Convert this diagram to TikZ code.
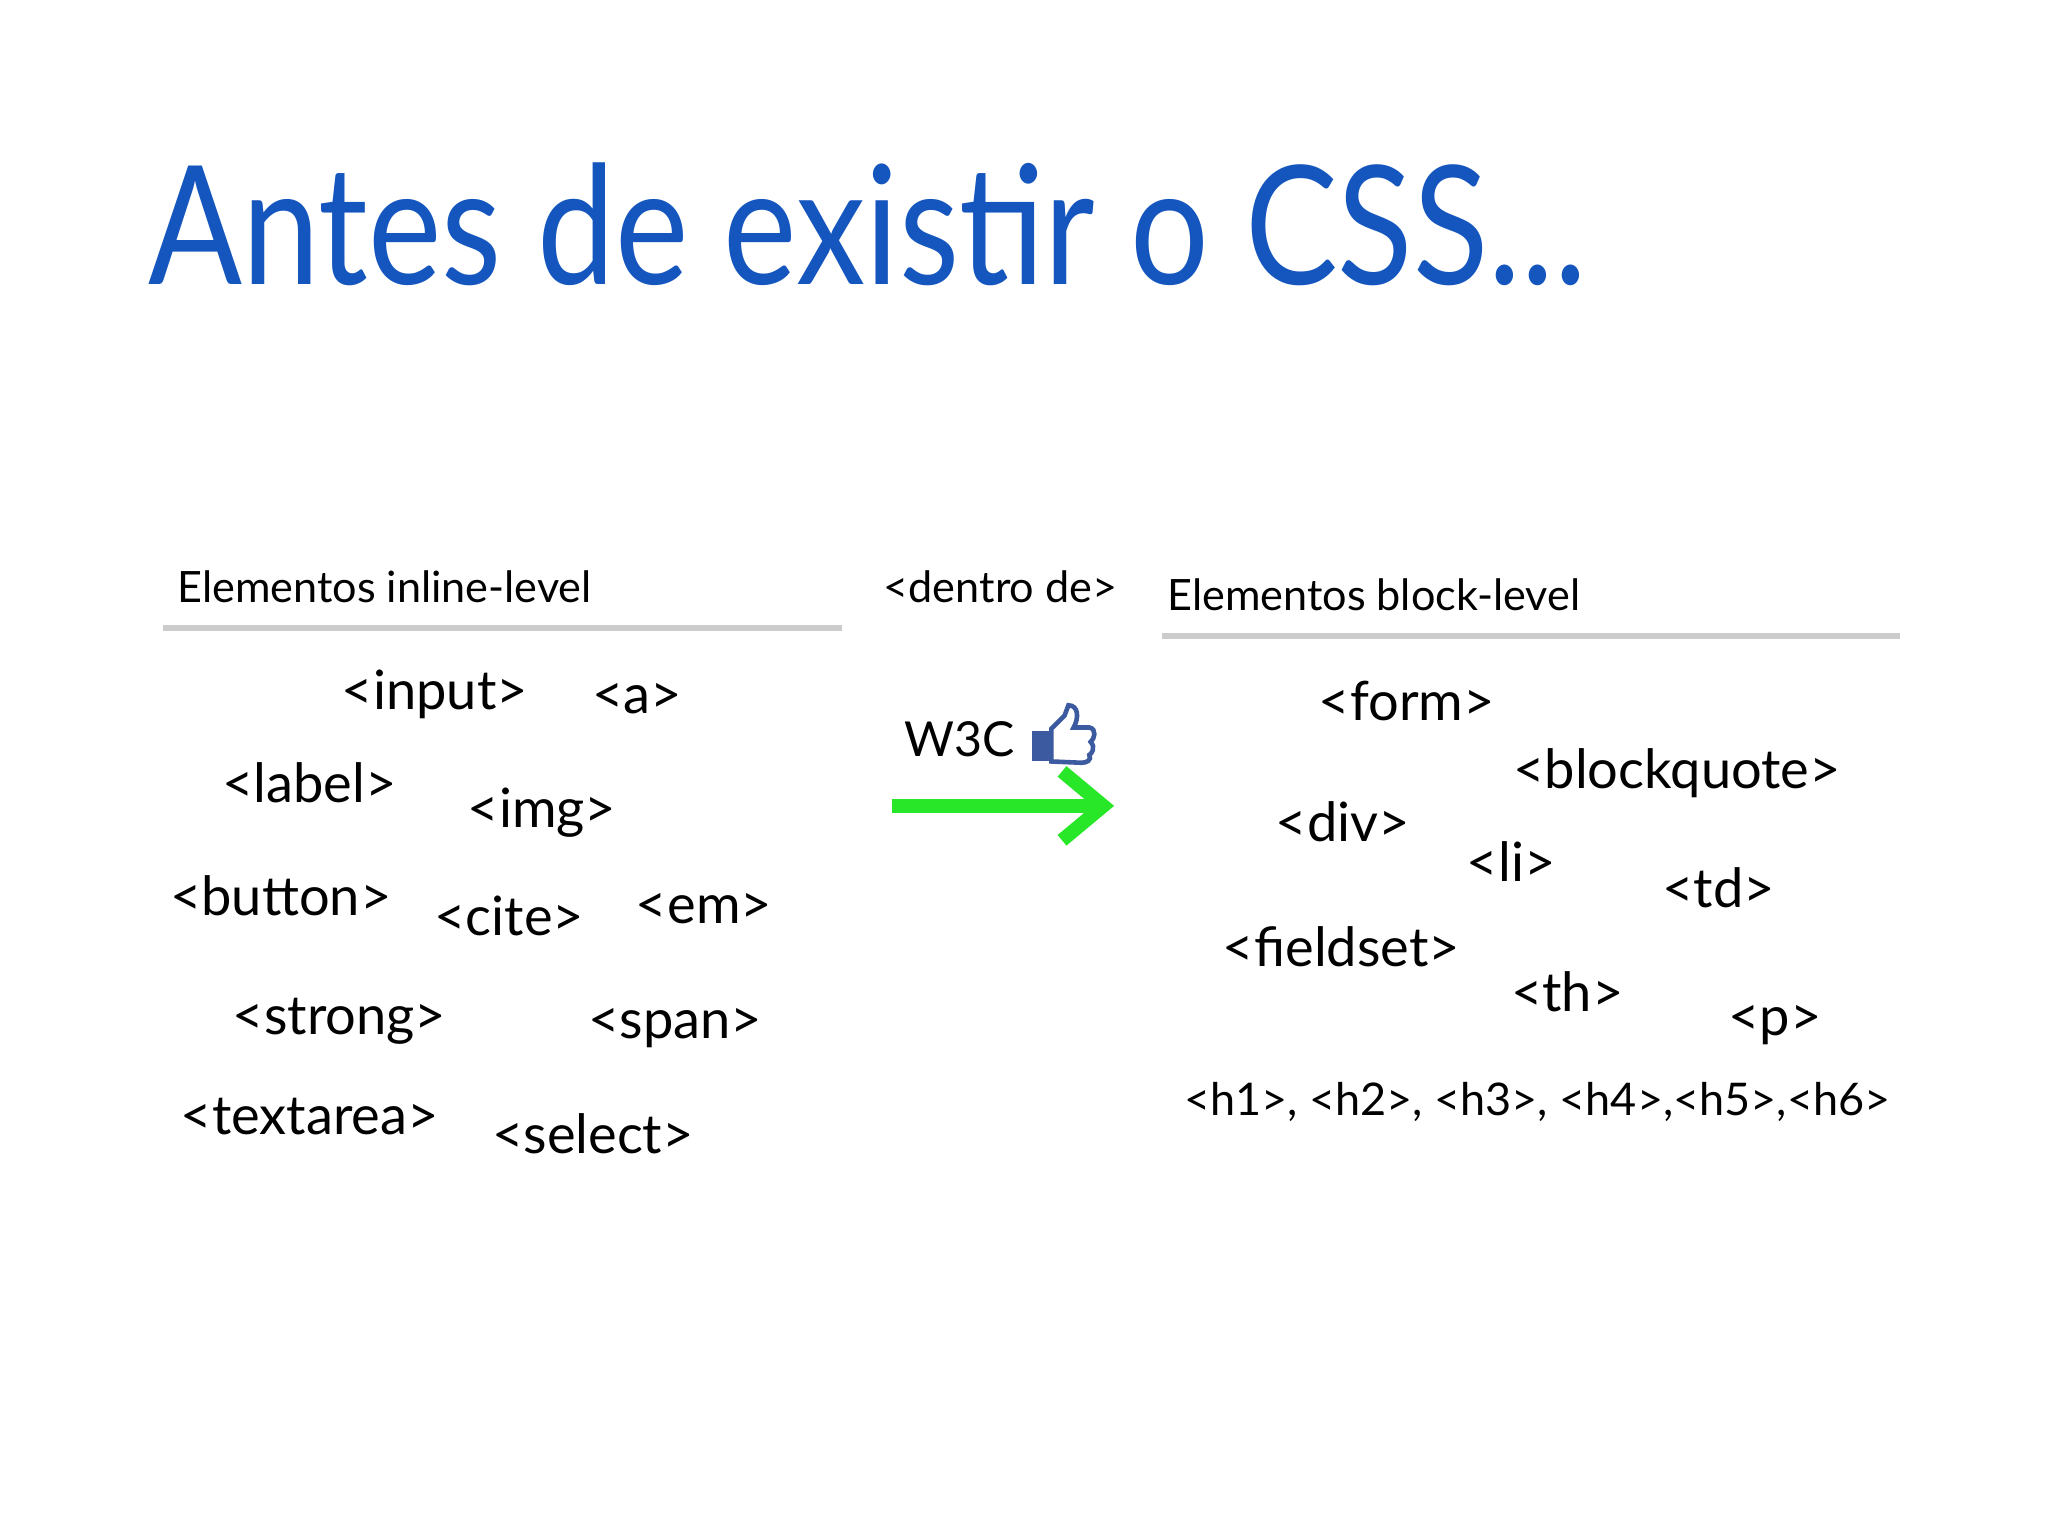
\documentclass[tikz,border=0pt]{standalone}
\usepackage{fontspec}
\setmainfont{Lato}
\newfontfamily\titlefont[FakeStretch=0.84]{Lato}
\usetikzlibrary{arrows.meta}
\definecolor{titleblue}{RGB}{20,85,190}
\definecolor{fbblue}{RGB}{60,90,160}
\definecolor{agreen}{RGB}{40,230,40}
\begin{document}
\begin{tikzpicture}[x=0.01cm,y=-0.01cm,
  tag/.style={inner sep=0pt,font=\fontsize{11.8pt}{13pt}\selectfont,text=black},
  hdr/.style={inner sep=0pt,font=\fontsize{9.4pt}{11pt}\selectfont,text=black},
  rule/.style={draw=black!20,line width=1.2pt}]
\useasboundingbox[fill=white] (0,0) rectangle (1568,1176);
\node[anchor=base west,inner sep=0pt,text=titleblue,font=\titlefont\fontsize{36pt}{40pt}\selectfont] (title) at (113,218) {Antes de existir o CSS...};
\node[hdr,anchor=west] (hin) at (135,449) {Elementos inline-level};
\node[hdr,anchor=west] (hbl) at (893,455) {Elementos block-level};
\node[hdr] (dentro) at (766,449) {<dentro de>};
\coordinate (l1a) at (125,481); \coordinate (l1b) at (645,481);
\coordinate (l2a) at (890,487); \coordinate (l2b) at (1455,487);
\draw[rule] (l1a) -- (l1b);
\draw[rule] (l2a) -- (l2b);
\node[tag] (input) at (333,532) {<input>};
\node[tag] (a) at (488,535) {<a>};
\node[tag] (label) at (237,599) {<label>};
\node[tag] (img) at (415,622) {<img>};
\node[tag] (button) at (215,686) {<button>};
\node[tag] (cite) at (390,701) {<cite>};
\node[tag] (em) at (539,696) {<em>};
\node[tag] (strong) at (260,782) {<strong>};
\node[tag] (span) at (517,787) {<span>};
\node[tag] (textarea) at (237,855) {<textarea>};
\node[tag] (select) at (454,868) {<select>};
\node[tag] (form) at (1077,537) {<form>};
\node[tag] (bq) at (1284,592) {<blockquote>};
\node[tag] (div) at (1028,629) {<div>};
\node[tag] (li) at (1157,660) {<li>};
\node[tag] (td) at (1316,680) {<td>};
\node[tag] (fs) at (1027,725) {<fieldset>};
\node[tag] (th) at (1200,759) {<th>};
\node[tag] (p) at (1359,785) {<p>};
\node[hdr,font=\fontsize{9.8pt}{11pt}\selectfont] (hs) at (1177,844) {<h1>, <h2>, <h3>, <h4>,<h5>,<h6>};
\node[hdr,font=\fontsize{10.5pt}{12pt}\selectfont] (w3c) at (735,566) {W3C};
% thumb icon
\fill[fbblue] (790,560) rectangle (804,583);
\draw[fbblue,line width=1pt,fill=white]
  (805,558) -- (815,548) -- (818,540) .. controls (826,540) and (826,550) .. (822,557)
  -- (834,557) .. controls (840,558) and (838,566) .. (835,568)
  .. controls (839,572) and (836,577) .. (834,578)
  .. controls (836,582) and (832,584) .. (828,584) -- (805,583) -- cycle;
% green arrow
\coordinate (ga) at (683,617); \coordinate (gb) at (853,617);
\draw[line width=3pt,agreen,-{Straight Barb[length=9pt,width=15pt,line width=3pt]}] (ga) -- (gb);
\end{tikzpicture}
\end{document}
